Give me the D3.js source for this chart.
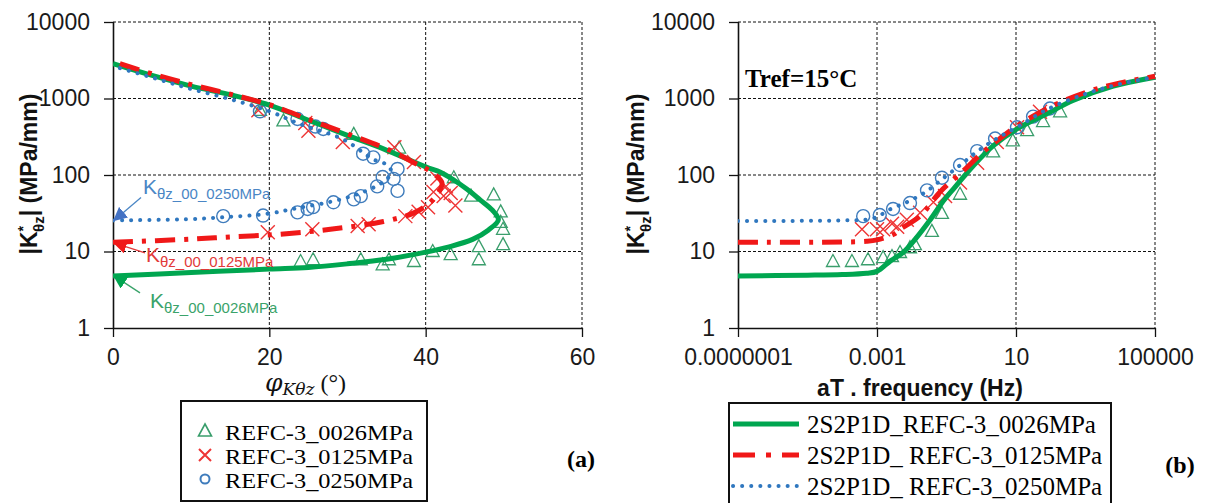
<!DOCTYPE html>
<html><head><meta charset="utf-8">
<script src="https://cdn.jsdelivr.net/npm/d3@7"></script>
<style>body{margin:0;background:#fff}svg{display:block}</style>
</head><body><svg id="c" width="1207" height="503"></svg>
<script>
// ---------------- DATA ----------------
const yTickValues = [1, 10, 100, 1000, 10000];
const yTickLabels = ["1", "10", "100", "1000", "10000"];
const phaseTickValues = [0, 20, 40, 60];
const phaseTickLabels = ["0", "20", "40", "60"];
const freqTickValues = [1e-7, 1e-3, 10, 1e5];
const freqTickLabels = ["0.0000001", "0.001", "10", "100000"];

const seriesNames = ["REFC-3_0026MPa", "REFC-3_0125MPa", "REFC-3_0250MPa"];
const modelNames = ["2S2P1D_REFC-3_0026MPa", "2S2P1D_ REFC-3_0125MPa", "2S2P1D_ REFC-3_0250MPa"];
const k00Names = ["θz_00_0026MPa", "θz_00_0125MPa", "θz_00_0250MPa"];
const k00Values = [4.8, 13, 25.5];

// 2S2P1D model in Black space: [phase (deg), |K*| (MPa/mm)]
const blackModel0026 = [[0,4.8],[10,5.3],[20,5.9],[25,6.2],[30,6.9],[35,7.9],[40,9.8],[43,11.5],[46,14.4],[48,19],[49.3,26],
  [48.5,35],[47,47],[45.3,65],[43.6,86],[41.9,109],[40,128],[34.6,220],[30,330],[25,520],[20,820],[15,1120],[10,1450],[5,2000],[0,2850]];
const blackModel0125 = [[0,13.2],[10,14.5],[15,15.5],[21,16.7],[27.8,19.5],[34.6,24.7],[38.5,32],[40.6,44],[41.7,60],[42.1,78],
  [41.4,97],[40,122],[38.5,145],[35.7,205],[30,345],[25,535],[20,830],[15,1140],[10,1520],[5,2100],[0,3050]];
const blackModel0250 = [[0,25.5],[10,26.5],[14,28],[19.7,31],[23.6,37],[28,45],[31,55],[33.5,70],[35,88],[35.6,110],[35.1,135],
  [33.3,160],[29.5,290],[24,460],[20,680],[15,980],[10,1330],[5,1880],[0,2650]];

// measured points in Black space
const black0026 = [[18.8,700],[21.8,510],[30.8,340],[36.6,225],[43.6,92],[45.8,53],[48.7,55],[49.6,33],[49.6,24],[49.9,19.5],
  [49.9,12.3],[46.8,11.6],[46.8,7.8],[43.2,9.1],[40.9,10],[38.5,7.4],[35.3,7.8],[34.5,6.7],[31.7,7.8],[25.6,7.8],[24,7.4]];
const black0125 = [[18.6,700],[24.6,480],[25,380],[29.4,270],[36,230],[38.5,148],[41.5,90],[43.2,58],
  [19.8,17.8],[25.5,19.5],[31.3,21.5],[32.7,22.7],[37.4,29],[39.1,33],[40.3,38],[41,60],[42.6,71],[43.8,40],[42.3,53]];
const black0250 = [[14.1,29],[19.2,29.5],[23.6,32.5],[24.9,36],[25.6,38],[28.2,44],[30.8,48],[31.7,53],[33.8,71],[34.5,94],
  [35.9,89],[36.4,62],[36.4,120],[33.3,170],[32,190],[26.9,400],[23.6,540],[18.8,680],[25.9,430]];

// 2S2P1D master curves: [reduced frequency (Hz), |K*| (MPa/mm)]
const master0026 = [[1e-7,4.8],[1e-5,4.9],[1e-4,5.0],[5e-4,5.2],[1e-3,5.5],[2.5e-3,7.6],[5.6e-3,9.7],[1.26e-2,14.5],[3.4e-2,26],
  [7.9e-2,45],[0.155,65],[0.575,130],[2.19,240],[10.7,400],[77.6,630],[437,940],[6300,1450],[1e5,1900]];
const master0125 = [[1e-7,13.2],[1e-4,13.3],[5e-4,13.6],[1e-3,14.2],[3.2e-3,17],[4.6e-3,19.5],[1.74e-2,29],[6.5e-2,60],
  [0.316,115],[1,190],[3.16,290],[10,430],[100,780],[1000,1200],[1e4,1600],[1e5,1950]];
const master0250 = [[1e-7,25],[1e-4,25.5],[6.3e-4,26.5],[1.26e-3,30],[2.5e-3,36],[7.1e-3,44],[2.5e-2,60],[7.9e-2,90],
  [0.25,135],[0.79,205],[2.8,300],[12.6,440],[79,720],[1000,1150],[1e4,1550],[1e5,1900]];

// measured points on master curve
const freq0026 = [[5.4e-5,7.4],[1.9e-4,7.4],[5.5e-4,7.8],[1.5e-3,8.3],[2.7e-3,8.6],[4.6e-3,9.7],[8.9e-3,11.2],[1.23e-2,12.3],
  [3.8e-2,18.3],[7.4e-2,31.5],[0.245,56],[2.19,200],[8.1,280],[20.9,380],[60,500],[186,670]];
const freq0125 = [[3.7e-4,19.5],[1e-3,19.5],[1.5e-3,19.5],[2.7e-3,23],[3.8e-3,21],[7.2e-3,26],[1.74e-2,32],[4.2e-2,44],
  [9.1e-2,53],[0.245,80],[0.76,145],[2.8,270],[10.7,420],[49,670]];
const freq0250 = [[4e-4,29],[1.2e-3,30],[2.9e-3,36],[8.9e-3,43],[2.75e-2,63],[7.4e-2,92],[0.245,135],[0.76,205],[2.5,300],
  [10.7,420],[31,580],[95,740]];

// ---------------- STYLE ----------------
const GREEN = "#00a650", GREEN_M = "#3a9e6c", RED = "#f01818", RED_M = "#ee3535", BLUE = "#2f77bf", BLUE_M = "#3f7cbc";
const svg = d3.select("#c");
const pTop = 22, pBottom = 328;
const y = d3.scaleLog().domain([1, 10000]).range([pBottom, pTop]);
const xL = d3.scaleLinear().domain([0, 60]).range([113, 582]);
const xR = d3.scaleLog().domain([1e-7, 1e5]).range([738, 1155]);

const defs = svg.append("defs");
function arrowMarker(id, color) {
  defs.append("marker").attr("id", id).attr("viewBox", "0 0 10 10").attr("refX", 9).attr("refY", 5)
    .attr("markerWidth", 14).attr("markerHeight", 14).attr("markerUnits", "userSpaceOnUse").attr("orient", "auto")
    .append("path").attr("d", "M0,0L10,5L0,10z").attr("fill", color);
}
arrowMarker("aG", GREEN); arrowMarker("aR", RED); arrowMarker("aB", "#4472c4");

function panel(x, xTicks, xLabels, id) {
  const [x0, x1] = x.range();
  defs.append("clipPath").attr("id", id).append("rect").attr("x", x0).attr("y", pTop - 2).attr("width", x1 - x0 + 2).attr("height", pBottom - pTop + 4);
  const g = svg.append("g");
  g.selectAll(".gh").data(yTickValues.slice(1)).join("line")
    .attr("x1", x0).attr("x2", x1).attr("y1", d => y(d)).attr("y2", d => y(d))
    .attr("stroke", "#111").attr("stroke-width", 1).attr("stroke-dasharray", "3,2");
  g.selectAll(".gv").data(xTicks.slice(1)).join("line")
    .attr("x1", d => x(d)).attr("x2", d => x(d)).attr("y1", pTop).attr("y2", pBottom)
    .attr("stroke", "#111").attr("stroke-width", 1).attr("stroke-dasharray", "3,2");
  const ay = d3.axisLeft(y).tickValues(yTickValues).tickFormat((d, i) => yTickLabels[i]).tickSize(9).tickPadding(14);
  const gy = svg.append("g").attr("transform", `translate(${x0},0)`).call(ay);
  const ax = d3.axisBottom(x).tickValues(xTicks).tickFormat((d, i) => xLabels[i]).tickSize(9).tickPadding(12);
  const gx = svg.append("g").attr("transform", `translate(0,${pBottom})`).call(ax);
  [gy, gx].forEach(a => {
    a.select(".domain").attr("stroke", "#111").attr("stroke-width", 1.6);
    a.selectAll(".tick line").attr("stroke", "#111").attr("stroke-width", 1.3);
    a.selectAll("text").attr("font-family", "Liberation Sans, Arial, sans-serif").attr("font-size", 23).attr("fill", "#1a1a1a");
  });
  gy.select(".domain").attr("d", `M0.5,${pBottom}V${pTop}`);
  gx.select(".domain").attr("d", `M${x0},0.5H${x1}`);
  return svg.append("g").attr("clip-path", `url(#${id})`);
}

function triangles(g, data, x, color) {
  g.selectAll(null).data(data).join("path")
    .attr("d", d => { const cx = x(d[0]), cy = y(d[1]); return `M${cx},${cy - 7}L${cx + 6.5},${cy + 5}L${cx - 6.5},${cy + 5}Z`; })
    .attr("fill", "none").attr("stroke", color).attr("stroke-width", 1.3);
}
function crosses(g, data, x, color) {
  g.selectAll(null).data(data).join("path")
    .attr("d", d => { const cx = x(d[0]), cy = y(d[1]); return `M${cx - 7},${cy - 7}L${cx + 7},${cy + 7}M${cx + 7},${cy - 7}L${cx - 7},${cy + 7}`; })
    .attr("stroke", color).attr("stroke-width", 1.4);
}
function circles(g, data, x, color) {
  g.selectAll(null).data(data).join("circle")
    .attr("cx", d => x(d[0])).attr("cy", d => y(d[1])).attr("r", 6.5)
    .attr("fill", "none").attr("stroke", color).attr("stroke-width", 1.4);
}
function styleLine(p, kind) {
  if (kind === 0) p.attr("stroke", GREEN).attr("stroke-width", 5);
  if (kind === 1) p.attr("stroke", RED).attr("stroke-width", 5).attr("stroke-dasharray", "20,9,4,9");
  if (kind === 2) p.attr("stroke", BLUE).attr("stroke-width", 4).attr("stroke-dasharray", "0.1,9").attr("stroke-linecap", "round");
  return p;
}
function modelLine(g, data, x, kind) {
  const line = d3.line().x(d => x(d[0])).y(d => y(d[1])).curve(d3.curveCatmullRom.alpha(0.5));
  styleLine(g.append("path").datum(data).attr("d", line).attr("fill", "none").attr("stroke-linejoin", "round"), kind);
}

// ---- Panel (a) ----
const gA = panel(xL, phaseTickValues, phaseTickLabels, "clipA");
triangles(gA, black0026, xL, GREEN_M);
crosses(gA, black0125, xL, RED_M);
circles(gA, black0250, xL, BLUE_M);
modelLine(gA, blackModel0026, xL, 0);
modelLine(gA, blackModel0125, xL, 1);
modelLine(gA, blackModel0250, xL, 2);

// K00 annotations
const annColors = ["#3aa36a", "#e23a3a", "#4a86c5"];
const annMarkers = ["aG", "aR", "aB"];
const annOffsets = [[37, 32, 27, 17], [33, 19, 32, 10], [30, -26, 28, -23]];
k00Values.forEach((v, i) => {
  const tx = xL(0), ty = y(v), o = annOffsets[i];
  svg.append("line").attr("x1", tx + o[2]).attr("y1", ty + o[3]).attr("x2", tx + 1).attr("y2", ty)
    .attr("stroke", annColors[i]).attr("stroke-width", 1.3).attr("marker-end", `url(#${annMarkers[i]})`);
  const t = svg.append("text").attr("x", tx + o[0]).attr("y", ty + o[1]).attr("fill", annColors[i])
    .attr("font-family", "Liberation Sans, Arial, sans-serif");
  t.append("tspan").attr("font-size", 21).text("K");
  t.append("tspan").attr("font-size", 15).attr("dy", 5).text(k00Names[i]);
});

// ---- Panel (b) ----
const gB = panel(xR, freqTickValues, freqTickLabels, "clipB");
triangles(gB, freq0026, xR, GREEN_M);
crosses(gB, freq0125, xR, RED_M);
circles(gB, freq0250, xR, BLUE_M);
modelLine(gB, master0026, xR, 0);
modelLine(gB, master0125, xR, 1);
modelLine(gB, master0250, xR, 2);

svg.append("text").attr("x", 745).attr("y", 87).attr("font-family", "Liberation Serif, Times New Roman, serif")
  .attr("font-weight", "bold").attr("font-size", 25).text("Tref=15°C");

// Y titles
[37, 644].forEach(bx => {
  const t = svg.append("text").attr("transform", `translate(${bx},174) rotate(-90)`).attr("text-anchor", "middle")
    .attr("font-family", "Liberation Sans, Arial, sans-serif").attr("font-weight", "bold").attr("font-size", 23).attr("fill", "#111");
  t.append("tspan").text("|K");
  t.append("tspan").attr("font-size", 14).attr("dy", -9).text("*");
  t.append("tspan").attr("font-size", 15).attr("dx", -6).attr("dy", 16).text("θz");
  t.append("tspan").attr("dy", -7).text("| (MPa/mm)");
});

// X titles
const xt = svg.append("text").attr("x", 265).attr("y", 391).attr("font-family", "DejaVu Serif, Liberation Serif, serif").attr("fill", "#111");
xt.append("tspan").attr("font-style", "italic").attr("font-size", 25).text("φ");
xt.append("tspan").attr("font-style", "italic").attr("font-size", 17).attr("dy", 4).text("Kθz");
xt.append("tspan").attr("font-size", 24).attr("dy", -4).attr("font-family", "Liberation Serif, serif").text(" (°)");

svg.append("text").attr("x", 920).attr("y", 396).attr("text-anchor", "middle")
  .attr("font-family", "Liberation Sans, Arial, sans-serif").attr("font-weight", "bold").attr("font-size", 23).attr("fill", "#111")
  .text("aT . frequency (Hz)");

// Legend (a)
svg.append("rect").attr("x", 181).attr("y", 401).attr("width", 246).attr("height", 100).attr("fill", "#fff").attr("stroke", "#111").attr("stroke-width", 2);
const legRowsA = [431, 455, 479];
seriesNames.forEach((n, i) => {
  const cy = legRowsA[i];
  if (i === 0) svg.append("path").attr("d", `M205,${cy - 7}L211.5,${cy + 5}L198.5,${cy + 5}Z`).attr("fill", "none").attr("stroke", GREEN_M).attr("stroke-width", 1.6);
  if (i === 1) svg.append("path").attr("d", `M199,${cy - 6}L211,${cy + 6}M211,${cy - 6}L199,${cy + 6}`).attr("stroke", RED_M).attr("stroke-width", 2);
  if (i === 2) svg.append("circle").attr("cx", 205).attr("cy", cy).attr("r", 4.5).attr("fill", "none").attr("stroke", BLUE_M).attr("stroke-width", 2);
  svg.append("text").attr("x", 225).attr("y", cy + 9).attr("font-family", "Liberation Serif, Times New Roman, serif")
    .attr("font-size", 21.5).attr("textLength", 188).attr("lengthAdjust", "spacingAndGlyphs").text(n);
});
svg.append("text").attr("x", 581).attr("y", 467).attr("text-anchor", "middle").attr("font-family", "Liberation Serif, serif")
  .attr("font-weight", "bold").attr("font-size", 24).text("(a)");

// Legend (b)
svg.append("rect").attr("x", 729).attr("y", 403).attr("width", 382).attr("height", 104).attr("fill", "#fff").attr("stroke", "#111").attr("stroke-width", 2);
const legRowsB = [424, 455, 486];
modelNames.forEach((n, i) => {
  const cy = legRowsB[i];
  const p = svg.append("line").attr("x1", 733).attr("x2", 799).attr("y1", cy).attr("y2", cy);
  styleLine(p, i);
  if (i === 1) p.attr("stroke-dasharray", "22,11,5,11");
  svg.append("text").attr("x", 807).attr("y", cy + 9).attr("font-family", "Liberation Serif, Times New Roman, serif").attr("font-size", 25).text(n);
});
svg.append("text").attr("x", 1180).attr("y", 473).attr("text-anchor", "middle").attr("font-family", "Liberation Serif, serif")
  .attr("font-weight", "bold").attr("font-size", 24).text("(b)");
</script></body></html>
